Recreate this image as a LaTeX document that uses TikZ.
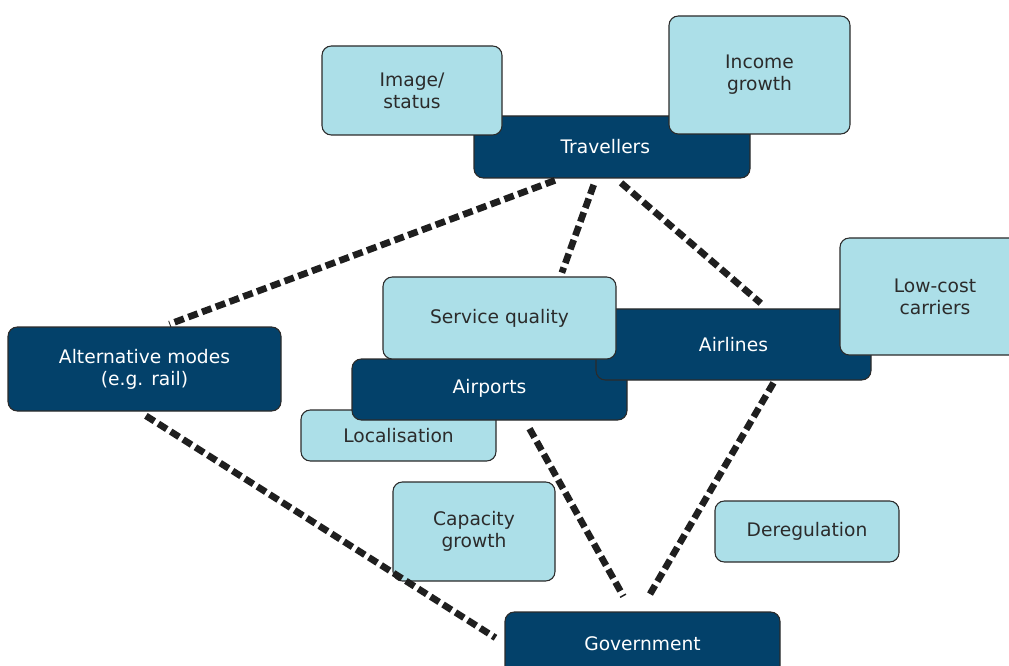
\documentclass[tikz,border=0pt]{standalone}
\usepackage{fontspec}
\setmainfont{DejaVu Sans}
\usepackage{tikz}

\definecolor{navy}{HTML}{03416A}
\definecolor{paleblue}{HTML}{ACDFE8}
\definecolor{inkgrey}{HTML}{2B2B2B}

\begin{document}
\begin{tikzpicture}[x=0.75pt, y=-0.75pt]
  \tikzstyle{actor} = [rectangle, rounded corners=7pt, draw=inkgrey, line width=0.8pt,
  fill=navy, text=white, align=center, inner sep=0pt,
  font=\fontsize{14}{16.5}\selectfont]
  \tikzstyle{factor} = [actor, fill=paleblue, text=inkgrey]
  \tikzstyle{link} = [line width=5pt, dash pattern=on 7.5pt off 3.5pt, draw=black!88]

  \useasboundingbox (0,0) rectangle (1009,666);
  \begin{scope}
  \clip (0,0) rectangle (1009,666);

  % Define nodes
  \node[actor, minimum width=207pt, minimum height=46.5pt] (trav) at (612,147) {Travellers\hspace*{10pt}};
  \node[factor, minimum width=135pt, minimum height=66.75pt] (image) at (412,90.5) {Image/\\status};
  \node[factor, minimum width=135.75pt, minimum height=88.5pt] (income) at (759.5,75) {Income\\growth};

  \node[actor, minimum width=204.75pt, minimum height=63pt] (alt) at (144.5,369) {Alternative modes\\(e.g. rail)};

  \node[factor, minimum width=146.25pt, minimum height=38.25pt] (local) at (398.5,435.5) {Localisation};
  \node[actor, minimum width=206.25pt, minimum height=45.75pt] (airports) at (489.5,389.5) {Airports\rule[-5pt]{0pt}{5pt}};
  \node[actor, minimum width=206.25pt, minimum height=53.25pt] (airlines) at (733.5,344.5) {Airlines};
  \node[factor, minimum width=174.75pt, minimum height=61.5pt] (service) at (499.5,318) {Service quality};
  \node[factor, minimum width=142.5pt, minimum height=87.75pt] (lowcost) at (935,296.5) {Low-cost\\carriers};

  \node[factor, minimum width=121.5pt, minimum height=74.25pt] (capacity) at (474,531.5) {Capacity\\growth};
  \node[factor, minimum width=138pt, minimum height=45.75pt] (dereg) at (807,531.5) {Deregulation};
  \node[actor, minimum width=206.25pt, minimum height=47.25pt] (gov) at (642.5,643.5) {Government};
  \end{scope}

  \path [link] ([xshift=-39pt]trav.south) edge [shorten <=4pt, shorten >=5pt] ([xshift=14pt]alt.north);
  \path [link] ([xshift=-12pt]trav.south) edge [shorten <=5pt, shorten >=3pt] ([xshift=45.75pt]service.north);
  \path [link] ([xshift=3pt]trav.south) edge [shorten <=5pt, shorten >=6pt] ([xshift=25pt]airlines.north);
  \path [link] ([xshift=-4pt]alt.south) edge [shorten <=6pt, shorten >=8pt] (gov.west);
  \path [link] ([xshift=26.6pt]airports.south) edge [shorten <=7pt, shorten >=13pt] ([xshift=-8pt]gov.north);
  \path [link] ([xshift=31pt]airlines.south) edge [shorten <=2pt, shorten >=15pt] ([xshift=-2pt]gov.north);
\end{tikzpicture}
\end{document}
